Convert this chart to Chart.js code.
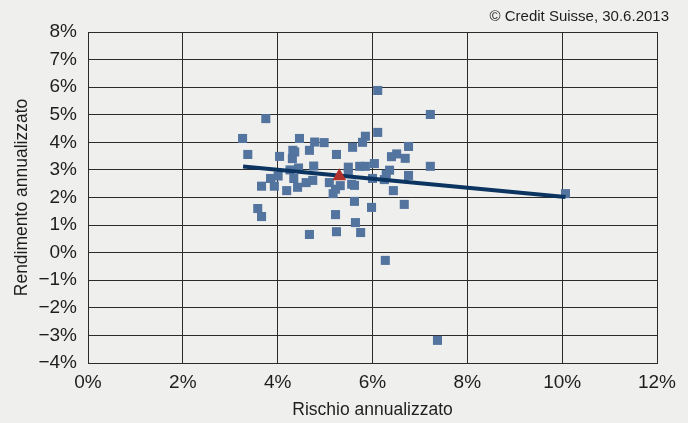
<!DOCTYPE html>
<html>
<head>
<meta charset="utf-8">
<script src="https://cdn.jsdelivr.net/npm/chart.js@4/dist/chart.umd.min.js"></script>
<style>
  html, body { margin: 0; padding: 0; background: #efefed; }
  #wrap { width: 688px; height: 423px; position: relative; }
</style>
</head>
<body>
<div id="wrap"><canvas id="chart"></canvas></div>
<script>
// Rischio / rendimento annualizzato dei singoli fondi (%)
const riskValues = [
  3.75, 3.26, 3.37, 4.04, 4.46, 4.78, 4.98, 4.67, 4.32, 4.36, 4.31, 5.24, 4.76,
  4.44, 4.26, 4.01, 3.85, 4.34, 3.66, 3.93, 4.19, 4.42, 4.60, 4.74, 5.09, 5.32,
  5.17, 5.22, 3.58, 3.66, 5.22, 4.67, 5.24, 6.11, 7.22, 6.11, 5.85, 5.79, 5.58,
  6.76, 6.51, 6.40, 6.69, 5.49, 5.73, 5.85, 6.04, 7.22, 6.36, 6.29, 6.76, 6.00,
  6.25, 5.49, 5.56, 5.62, 6.44, 5.62, 5.98, 6.67, 5.64, 5.75, 6.27, 10.07, 7.37
];
const returnValues = [
  4.86, 4.14, 3.56, 3.49, 4.14, 4.01, 3.99, 3.71, 3.71, 3.65, 3.41, 3.56, 3.14,
  3.07, 3.00, 2.78, 2.69, 2.69, 2.41, 2.41, 2.25, 2.37, 2.54, 2.62, 2.54, 2.43,
  2.14, 2.30, 1.60, 1.31, 1.38, 0.66, 0.76, 5.88, 5.01, 4.36, 4.22, 4.00, 3.82,
  3.85, 3.58, 3.48, 3.42, 3.10, 3.13, 3.13, 3.23, 3.13, 2.99, 2.84, 2.80, 2.69,
  2.65, 2.88, 2.48, 2.44, 2.25, 1.86, 1.64, 1.75, 1.09, 0.73, -0.28, 2.14, -3.18
];

// media (triangolo rosso)
const averageRisk = [5.30];
const averageReturn = [2.77];

// retta di regressione
const trendRisk = [3.27, 10.07];
const trendReturn = [3.12, 2.02];

const xTicks = [0, 2, 4, 6, 8, 10, 12];
const yTicks = [-4, -3, -2, -1, 0, 1, 2, 3, 4, 5, 6, 7, 8];

const toPoints = (xs, ys) => xs.map((x, i) => ({ x: x, y: ys[i] }));
const pct = v => (v < 0 ? '\u2212' + Math.abs(v) : String(v)) + '%';

const textColor = '#1e1e1e';
const gridColor = '#2b2b2b';

const copyrightPlugin = {
    id: 'copyright',
    afterDraw(chart) {
        const ctx = chart.ctx;
        ctx.save();
        ctx.font = '15px "Liberation Sans", Arial, sans-serif';
        ctx.fillStyle = textColor;
        ctx.textAlign = 'right';
        ctx.textBaseline = 'middle';
        ctx.fillText('\u00A9 Credit Suisse, 30.6.2013', 669, 17);
        ctx.restore();
    }
};

const bgPlugin = {
    id: 'bg',
    beforeDraw(chart) {
        const ctx = chart.ctx;
        ctx.save();
        ctx.fillStyle = '#efefed';
        ctx.fillRect(0, 0, chart.width, chart.height);
        ctx.restore();
    }
};

Chart.defaults.font.family = '"Liberation Sans", Arial, sans-serif';
Chart.defaults.color = textColor;

new Chart(document.getElementById('chart'), {
    type: 'scatter',
    data: {
        datasets: [
            {
                label: 'Fondi',
                data: toPoints(riskValues, returnValues),
                pointStyle: 'rect',
                pointRadius: 6.4,
                pointHoverRadius: 6.4,
                backgroundColor: '#52749f',
                borderWidth: 0,
                order: 3
            },
            {
                label: 'Regressione',
                type: 'line',
                data: toPoints(trendRisk, trendReturn),
                borderColor: '#0b3461',
                borderWidth: 4,
                pointRadius: 0,
                fill: false,
                order: 2
            },
            {
                label: 'Media',
                data: toPoints(averageRisk, averageReturn),
                pointStyle: 'triangle',
                pointRadius: 8,
                pointHoverRadius: 8,
                backgroundColor: '#b3312b',
                borderWidth: 0,
                order: 1
            }
        ]
    },
    options: {
        responsive: true,
        maintainAspectRatio: false,
        animation: false,
        layout: { padding: { top: 32, right: 31, bottom: 0, left: 0 } },
        plugins: {
            legend: { display: false },
            tooltip: { enabled: false }
        },
        scales: {
            x: {
                type: 'linear',
                min: 0,
                max: 12,
                afterBuildTicks: scale => { scale.ticks = xTicks.map(v => ({ value: v })); },
                afterFit: scale => { scale.height = 60; },
                grid: { color: gridColor, lineWidth: 1, drawTicks: false },
                border: { color: gridColor, width: 1 },
                ticks: {
                    padding: 8,
                    font: { size: 19 },
                    color: textColor,
                    callback: v => pct(v)
                },
                title: {
                    display: true,
                    text: 'Rischio annualizzato',
                    font: { size: 17.5 },
                    color: textColor,
                    padding: { top: 0, bottom: 2 }
                }
            },
            y: {
                type: 'linear',
                min: -4,
                max: 8,
                afterBuildTicks: scale => { scale.ticks = yTicks.map(v => ({ value: v })); },
                afterFit: scale => { scale.width = 88; },
                grid: { color: gridColor, lineWidth: 1, drawTicks: false },
                border: { color: gridColor, width: 1 },
                ticks: {
                    padding: 11,
                    font: { size: 19 },
                    color: textColor,
                    callback: v => pct(v)
                },
                title: {
                    display: true,
                    text: 'Rendimento annualizzato',
                    font: { size: 17.5 },
                    color: textColor,
                    padding: { top: 12, bottom: 0 }
                }
            }
        }
    },
    plugins: [bgPlugin, copyrightPlugin]
});
</script>
</body>
</html>
